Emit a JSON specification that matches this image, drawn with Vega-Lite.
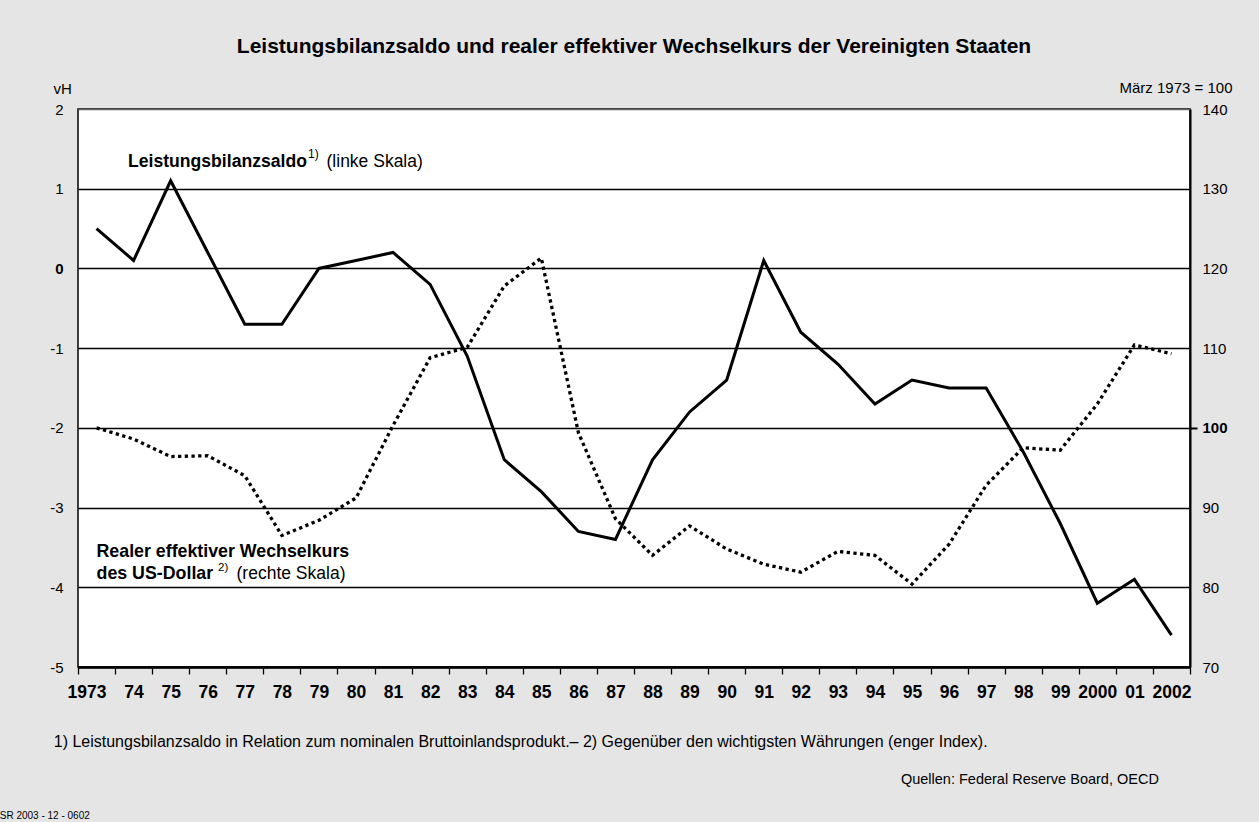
{
  "$schema": "https://vega.github.io/schema/vega-lite/v6.json",
  "width": 1112,
  "height": 558,
  "autosize": {"type": "none"},
  "padding": {"left": 78, "top": 109, "right": 69, "bottom": 155},
  "background": "#e5e5e5",
  "title": {
    "text": "Leistungsbilanzsaldo und realer effektiver Wechselkurs der Vereinigten Staaten",
    "font": "Liberation Sans",
    "fontSize": 21,
    "fontWeight": "bold",
    "color": "black",
    "anchor": "middle",
    "baseline": "alphabetic",
    "offset": 6
  },
  "config": {
    "view": {"fill": "white", "stroke": "black", "strokeWidth": 1.5},
    "font": "Liberation Sans",
    "axis": {"labelFont": "Liberation Sans", "titleFont": "Liberation Sans", "labelColor": "black", "titleColor": "black"}
  },
  "data": {
    "values": [
      {"year": 1973, "saldo": 0.5, "kurs": 100.0},
      {"year": 1974, "saldo": 0.1, "kurs": 98.6},
      {"year": 1975, "saldo": 1.1, "kurs": 96.4},
      {"year": 1976, "saldo": 0.2, "kurs": 96.5},
      {"year": 1977, "saldo": -0.7, "kurs": 94.0},
      {"year": 1978, "saldo": -0.7, "kurs": 86.5},
      {"year": 1979, "saldo": 0.0, "kurs": 88.4},
      {"year": 1980, "saldo": 0.1, "kurs": 91.2},
      {"year": 1981, "saldo": 0.2, "kurs": 100.3},
      {"year": 1982, "saldo": -0.2, "kurs": 108.8},
      {"year": 1983, "saldo": -1.1, "kurs": 110.1},
      {"year": 1984, "saldo": -2.4, "kurs": 117.8},
      {"year": 1985, "saldo": -2.8, "kurs": 121.3},
      {"year": 1986, "saldo": -3.3, "kurs": 99.4},
      {"year": 1987, "saldo": -3.4, "kurs": 88.6},
      {"year": 1988, "saldo": -2.4, "kurs": 84.0},
      {"year": 1989, "saldo": -1.8, "kurs": 87.7},
      {"year": 1990, "saldo": -1.4, "kurs": 84.8},
      {"year": 1991, "saldo": 0.1, "kurs": 82.9},
      {"year": 1992, "saldo": -0.8, "kurs": 81.9},
      {"year": 1993, "saldo": -1.2, "kurs": 84.5},
      {"year": 1994, "saldo": -1.7, "kurs": 84.0},
      {"year": 1995, "saldo": -1.4, "kurs": 80.4},
      {"year": 1996, "saldo": -1.5, "kurs": 85.4},
      {"year": 1997, "saldo": -1.5, "kurs": 92.8},
      {"year": 1998, "saldo": -2.3, "kurs": 97.5},
      {"year": 1999, "saldo": -3.2, "kurs": 97.2},
      {"year": 2000, "saldo": -4.2, "kurs": 103.0},
      {"year": 2001, "saldo": -3.9, "kurs": 110.4},
      {"year": 2002, "saldo": -4.6, "kurs": 109.3}
    ]
  },
  "encoding": {
    "x": {
      "field": "year",
      "type": "ordinal",
      "scale": {"type": "band", "paddingInner": 0, "paddingOuter": 0},
      "axis": {
        "title": null,
        "labelAngle": 0,
        "labelFontSize": 17.5,
        "labelFontWeight": "bold",
        "labelPadding": 9,
        "labelOffset": {"condition": {"test": "datum.value == 1973", "value": -10}, "value": 0},
        "labelExpr": "(datum.value == 1973 || datum.value == 2000 || datum.value == 2002) ? datum.label : substring(datum.label, 2)",
        "tickBand": "extent",
        "ticks": true,
        "tickSize": 7,
        "tickWidth": 1.3,
        "tickColor": "black",
        "domainColor": "black",
        "domainWidth": 2.5,
        "grid": false
      }
    }
  },
  "layer": [
    {
      "layer": [
        {
          "mark": {"type": "line", "color": "black", "strokeWidth": 3, "strokeJoin": "miter"},
          "encoding": {
            "y": {
              "field": "saldo",
              "type": "quantitative",
              "scale": {"domain": [-5, 2], "nice": false, "zero": false},
              "axis": {
                "title": "vH",
                "titleAngle": 0,
                "titleAlign": "left",
                "titleBaseline": "alphabetic",
                "titleX": -25,
                "titleY": -16,
                "titleFontSize": 15,
                "titleFontWeight": "normal",
                "values": [-5, -4, -3, -2, -1, 0, 1, 2],
                "labelExpr": "'' + datum.value",
                "labelFontSize": 15,
                "labelFontWeight": {"condition": {"test": "datum.value === 0", "value": "bold"}, "value": "normal"},
                "labelAlign": "right",
                "labelBaseline": "middle",
                "labelPadding": 15,
                "ticks": false,
                "tickSize": 0,
                "domain": false,
                "grid": true,
                "gridColor": {"condition": {"test": "datum.value === 2", "value": "#666666"}, "value": "black"},
                "gridWidth": 1.6,
                "gridOpacity": 1
              }
            }
          }
        },
        {
          "data": {"values": [{"t": "Leistungsbilanzsaldo"}]},
          "mark": {"type": "text", "align": "left", "baseline": "alphabetic", "fontSize": 17.6, "fontWeight": "bold", "dx": 31.5, "color": "black"},
          "encoding": {
            "x": {"datum": 1973, "type": "ordinal"},
            "y": {"datum": 1.27, "type": "quantitative"},
            "text": {"field": "t"}
          }
        },
        {
          "data": {"values": [{"t": "1)"}]},
          "mark": {"type": "text", "align": "left", "baseline": "alphabetic", "fontSize": 12, "dx": 211.5, "color": "black"},
          "encoding": {
            "x": {"datum": 1973, "type": "ordinal"},
            "y": {"datum": 1.39, "type": "quantitative"},
            "text": {"field": "t"}
          }
        },
        {
          "data": {"values": [{"t": "(linke Skala)"}]},
          "mark": {"type": "text", "align": "left", "baseline": "alphabetic", "fontSize": 17.5, "dx": 230, "color": "black"},
          "encoding": {
            "x": {"datum": 1973, "type": "ordinal"},
            "y": {"datum": 1.27, "type": "quantitative"},
            "text": {"field": "t"}
          }
        },
        {
          "data": {"values": [{"t": "Realer effektiver Wechselkurs"}]},
          "mark": {"type": "text", "align": "left", "baseline": "alphabetic", "fontSize": 17.8, "fontWeight": "bold", "dx": 0, "color": "black"},
          "encoding": {
            "x": {"datum": 1973, "type": "ordinal"},
            "y": {"datum": -3.62, "type": "quantitative"},
            "text": {"field": "t"}
          }
        },
        {
          "data": {"values": [{"t": "des US-Dollar"}]},
          "mark": {"type": "text", "align": "left", "baseline": "alphabetic", "fontSize": 17.8, "fontWeight": "bold", "dx": 0, "color": "black"},
          "encoding": {
            "x": {"datum": 1973, "type": "ordinal"},
            "y": {"datum": -3.9, "type": "quantitative"},
            "text": {"field": "t"}
          }
        },
        {
          "data": {"values": [{"t": "2)"}]},
          "mark": {"type": "text", "align": "left", "baseline": "alphabetic", "fontSize": 11.5, "dx": 121.5, "color": "black"},
          "encoding": {
            "x": {"datum": 1973, "type": "ordinal"},
            "y": {"datum": -3.8, "type": "quantitative"},
            "text": {"field": "t"}
          }
        },
        {
          "data": {"values": [{"t": "(rechte Skala)"}]},
          "mark": {"type": "text", "align": "left", "baseline": "alphabetic", "fontSize": 17.5, "dx": 140, "color": "black"},
          "encoding": {
            "x": {"datum": 1973, "type": "ordinal"},
            "y": {"datum": -3.9, "type": "quantitative"},
            "text": {"field": "t"}
          }
        },
        {
          "data": {"values": [{"t": "1) Leistungsbilanzsaldo in Relation zum nominalen Bruttoinlandsprodukt.– 2) Gegenüber den wichtigsten Währungen (enger Index)."}]},
          "mark": {"type": "text", "align": "left", "baseline": "alphabetic", "fontSize": 16, "dx": -42.8, "color": "black"},
          "encoding": {
            "x": {"datum": 1973, "type": "ordinal"},
            "y": {"datum": -6.0, "type": "quantitative"},
            "text": {"field": "t"}
          }
        },
        {
          "data": {"values": [{"t": "Quellen: Federal Reserve Board, OECD"}]},
          "mark": {"type": "text", "align": "right", "baseline": "alphabetic", "fontSize": 14.5, "dx": -12.6, "color": "black"},
          "encoding": {
            "x": {"datum": 2002, "type": "ordinal"},
            "y": {"datum": -6.465, "type": "quantitative"},
            "text": {"field": "t"}
          }
        },
        {
          "data": {"values": [{"t": "SR 2003 - 12 - 0602"}]},
          "mark": {"type": "text", "align": "left", "baseline": "alphabetic", "fontSize": 10, "dx": -96.8, "color": "black"},
          "encoding": {
            "x": {"datum": 1973, "type": "ordinal"},
            "y": {"datum": -6.91, "type": "quantitative"},
            "text": {"field": "t"}
          }
        }
      ]
    },
    {
      "mark": {"type": "line", "color": "black", "strokeWidth": 3.3, "strokeDash": [3.3, 3.4], "strokeCap": "butt"},
      "encoding": {
        "y": {
          "field": "kurs",
          "type": "quantitative",
          "scale": {"domain": [70, 140], "nice": false, "zero": false},
          "axis": {
            "orient": "right",
            "title": "März 1973 = 100",
            "titleAngle": 0,
            "titleAlign": "right",
            "titleBaseline": "alphabetic",
            "titleX": 42,
            "titleY": -17,
            "titleFontSize": 15,
            "titleFontWeight": "normal",
            "values": [70, 80, 90, 100, 110, 120, 130, 140],
            "labelFontSize": 15,
            "labelFontWeight": {"condition": {"test": "datum.value === 100", "value": "bold"}, "value": "normal"},
            "labelAlign": "left",
            "labelBaseline": "middle",
            "labelPadding": 5,
            "ticks": true,
            "tickSize": 7,
            "tickWidth": 2,
            "tickColor": "black",
            "tickOpacity": {"condition": {"test": "datum.value === 100", "value": 1}, "value": 0},
            "domain": true,
            "domainColor": "black",
            "domainWidth": 2,
            "grid": false
          }
        }
      }
    }
  ],
  "resolve": {"scale": {"y": "independent"}}
}
